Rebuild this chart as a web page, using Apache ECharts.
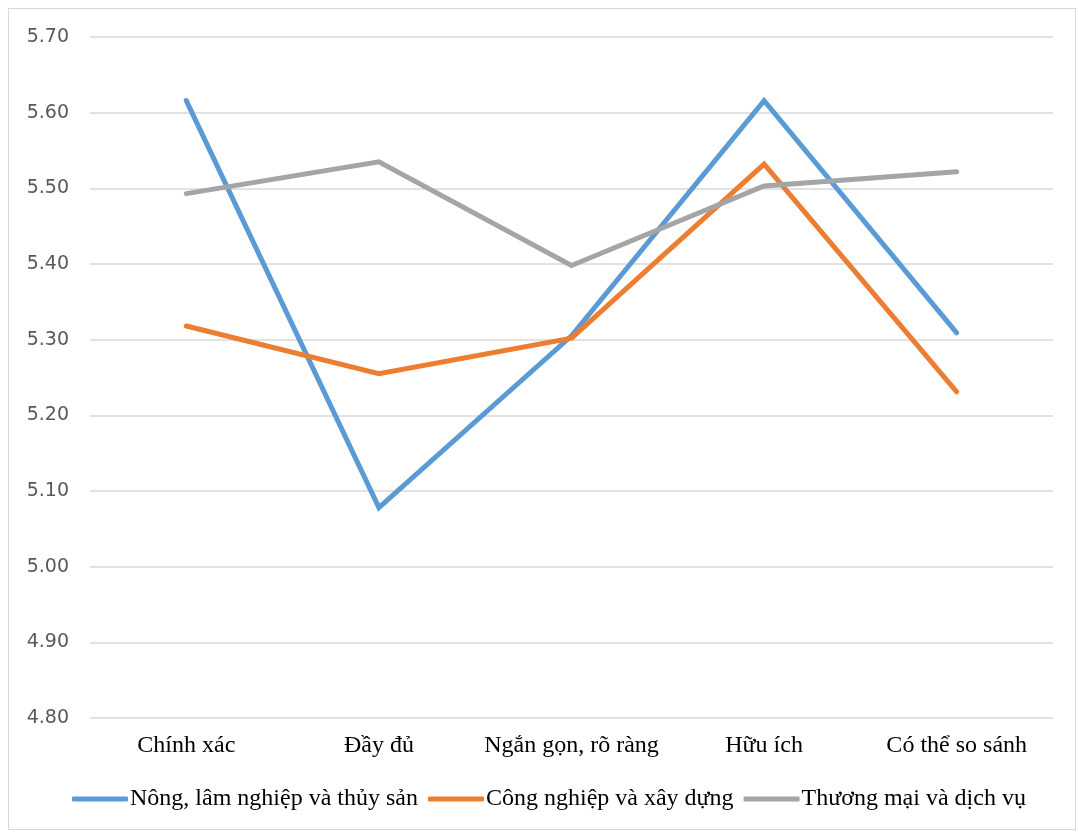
<!DOCTYPE html>
<html><head><meta charset="utf-8">
<script src="https://cdn.jsdelivr.net/npm/echarts@6/dist/echarts.min.js"></script>
<style>
html,body{margin:0;padding:0;background:#fff;}
#frame{position:absolute;left:8px;top:8px;width:1068px;height:822px;border:1px solid #d9d9d9;box-sizing:border-box;}
#c{position:absolute;left:0;top:0;width:1078px;height:832px;}
</style></head>
<body>
<div id="frame"></div>
<div id="c"></div>
<script>
var categories = ['Chính xác', 'Đầy đủ', 'Ngắn gọn, rõ ràng', 'Hữu ích', 'Có thể so sánh'];
var seriesNames = ['Nông, lâm nghiệp và thủy sản', 'Công nghiệp và xây dựng', 'Thương mại và dịch vụ'];
var nongLam = [5.616, 5.078, 5.305, 5.616, 5.309];
var congNghiep = [5.318, 5.255, 5.302, 5.532, 5.231];
var thuongMai = [5.493, 5.535, 5.398, 5.503, 5.522];
var colors = ['#5b9bd5', '#ed7d31', '#a5a5a5'];

var chart = echarts.init(document.getElementById('c'));
function mk(name, data, color){
  return {name:name, type:'line', data:data, symbol:'none', smooth:false,
    lineStyle:{width:5, color:color, cap:'round', join:'miter'}, itemStyle:{color:color}};
}
chart.setOption({
  animation:false,
  grid:{left:90, right:25, top:37, bottom:114},
  xAxis:{type:'category', data:categories, boundaryGap:true,
    axisLine:{show:false}, axisTick:{show:false},
    axisLabel:{interval:0, color:'#000', fontFamily:'Liberation Serif', fontSize:24, margin:16}},
  yAxis:{type:'value', min:4.8, max:5.7, interval:0.1,
    axisLine:{show:false}, axisTick:{show:false},
    axisLabel:{color:'#595959', fontFamily:'DejaVu Sans', fontSize:19, margin:21, formatter:function(v){return v.toFixed(2);}},
    splitLine:{lineStyle:{color:'#d9d9d9', width:1.5}}},
  legend:{bottom:16, left:67, padding:5, itemWidth:56, itemHeight:5, itemGap:10,
    icon:'roundRect',
    textStyle:{color:'#000', fontFamily:'Liberation Serif', fontSize:24, padding:[0,0,0,-3]},
    data:seriesNames},
  series:[mk(seriesNames[0], nongLam, colors[0]), mk(seriesNames[1], congNghiep, colors[1]), mk(seriesNames[2], thuongMai, colors[2])]
});
</script>
</body></html>
